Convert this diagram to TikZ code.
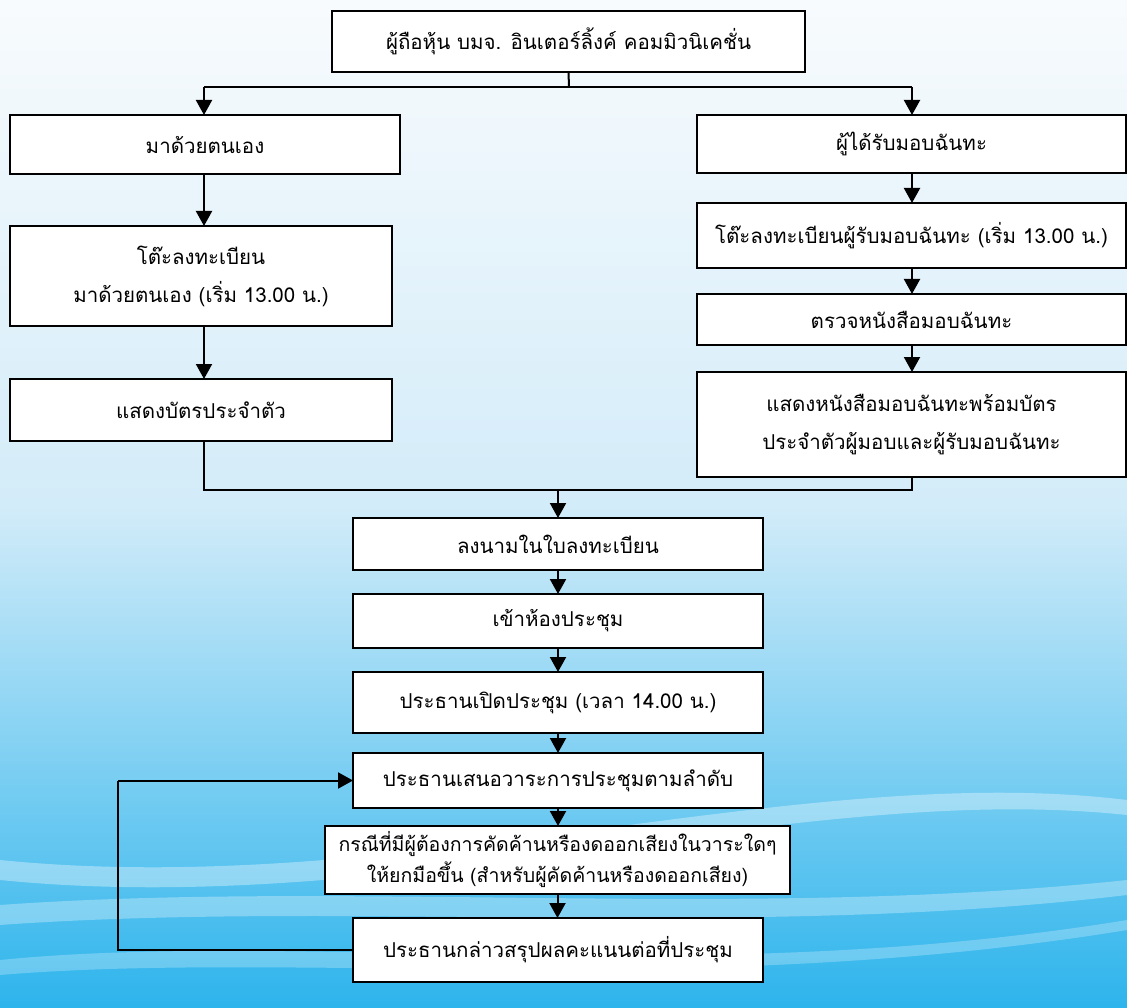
\documentclass[tikz,border=0pt]{standalone}
\usepackage{fontspec}
\newfontfamily\thai[Script=Thai]{Loma}
\usetikzlibrary{arrows.meta}
\definecolor{bgtop}{HTML}{F8FBFD}
\definecolor{bgmid}{HTML}{D3ECF9}
\definecolor{bgbot}{HTML}{2DB4EC}
\tikzset{
  box/.style={draw=black, line width=2pt, fill=white, inner sep=0pt, outer sep=0pt,
    align=center, font=\thai\fontsize{20.5}{38}\selectfont},
  conn/.style={line width=2pt},
  arr/.style={line width=2pt, -{Triangle[length=15pt,width=16pt]}},
}
\newcommand{\bx}[6]{% name, x1, y1, x2, y2, text
  \node[box, minimum width={#4-#2}, minimum height={#5-#3}] (#1) at ({(#2+#4)/2},{(#3+#5)/2}) {#6};}
\begin{document}
\begin{tikzpicture}[x=1pt,y=-1pt]
% background
\useasboundingbox (0,0) rectangle (1127,1008);
\shade[top color=bgtop, bottom color=bgmid] (0,0) rectangle (1127,504);
\shade[top color=bgmid, bottom color=bgbot] (0,504) rectangle (1127,1008);
% white swooshes
\fill[white, opacity=0.35] (0,860) .. controls (400,900) and (800,760) .. (1127,800)
  -- (1127,815) .. controls (800,780) and (400,920) .. (0,880) -- cycle;
\fill[white, opacity=0.3] (0,905) .. controls (350,880) and (750,920) .. (1127,880)
  -- (1127,895) .. controls (750,940) and (350,900) .. (0,925) -- cycle;
\fill[white, opacity=0.25] (0,960) .. controls (300,930) and (700,990) .. (1127,920)
  -- (1127,930) .. controls (700,1000) and (300,950) .. (0,975) -- cycle;
% boxes
\bx{top}{332}{11}{805}{72}{ผู้ถือหุ้น บมจ. อินเตอร์ลิ้งค์ คอมมิวนิเคชั่น}
\bx{A}{10}{115}{400}{174}{มาด้วยตนเอง}
\bx{B}{10}{226}{392}{326}{โต๊ะลงทะเบียน\\มาด้วยตนเอง (เริ่ม 13.00 น.)}
\bx{C}{10}{379}{392}{441}{แสดงบัตรประจำตัว}
\bx{D}{697}{115}{1126}{173}{ผู้ได้รับมอบฉันทะ}
\bx{E}{697}{203}{1126}{268}{โต๊ะลงทะเบียนผู้รับมอบฉันทะ (เริ่ม 13.00 น.)}
\bx{F}{697}{294}{1126}{345}{ตรวจหนังสือมอบฉันทะ}
\bx{G}{697}{372}{1126}{477}{แสดงหนังสือมอบฉันทะพร้อมบัตร\\ประจำตัวผู้มอบและผู้รับมอบฉันทะ}
\bx{H}{353}{518}{763}{570}{ลงนามในใบลงทะเบียน}
\bx{I}{353}{594}{763}{648}{เข้าห้องประชุม}
\bx{J}{353}{672}{763}{733}{ประธานเปิดประชุม (เวลา 14.00 น.)}
\bx{K}{353}{753}{763}{808}{ประธานเสนอวาระการประชุมตามลำดับ}
\node[box, minimum width=465pt, minimum height=68pt, font=\thai\fontsize{19.5}{31}\selectfont] (L) at (557.5,860) {กรณีที่มีผู้ต้องการคัดค้านหรืองดออกเสียงในวาระใดๆ\\ให้ยกมือขึ้น (สำหรับผู้คัดค้านหรืองดออกเสียง)};
\bx{M}{353}{918}{763}{982}{ประธานกล่าวสรุปผลคะแนนต่อที่ประชุม}
% connectors
\coordinate (s) at (569,87);
\coordinate (sl) at (204,87);
\coordinate (sr) at (912,87);
\coordinate (ml) at (204,490);
\coordinate (mr) at (912,490);
\coordinate (mc) at (558,490);
\coordinate (lb) at (118,950);
\coordinate (lt) at (118,780.5);
\draw[conn] (top.south) -- (s);
\draw[conn] (sl) -- (sr);
\draw[arr] (sl) -- (sl |- A.north);
\draw[arr] (sr) -- (sr |- D.north);
\draw[arr] (sl |- A.south) -- (sl |- B.north);
\draw[arr] (sl |- B.south) -- (sl |- C.north);
\draw[conn] (sl |- C.south) -- (ml) -- (mr) -- (mr |- G.south);
\draw[arr] (sr |- D.south) -- (sr |- E.north);
\draw[arr] (sr |- E.south) -- (sr |- F.north);
\draw[arr] (sr |- F.south) -- (sr |- G.north);
\draw[arr] (mc) -- (mc |- H.north);
\draw[arr] (H.south) -- (I.north);
\draw[arr] (I.south) -- (J.north);
\draw[arr] (J.south) -- (K.north);
\draw[arr] (K.south) -- (K.south |- L.north);
\draw[arr] (L.south) -- (L.south |- M.north);
\draw[conn] (M.west) -- (lb) -- (lt);
\draw[arr] (lt) -- (K.west);
\end{tikzpicture}
\end{document}
